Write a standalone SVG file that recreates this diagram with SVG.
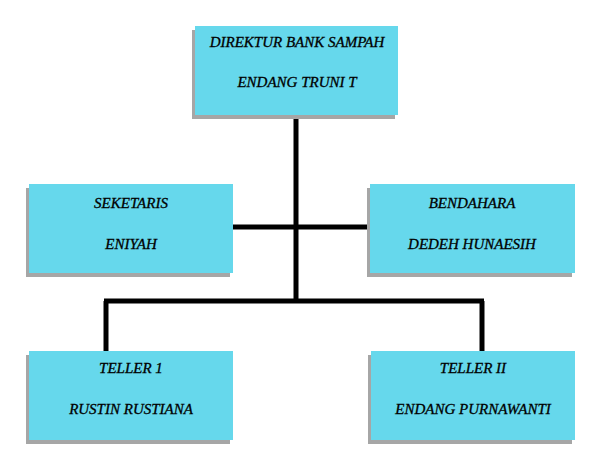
<svg xmlns="http://www.w3.org/2000/svg" width="595" height="474" viewBox="0 0 595 474">
<style>
.box{fill:#66d8ec}
.sh{fill:#a6a6a6}
.t{font-family:"Liberation Serif","Times New Roman",serif;font-style:italic;font-size:15px;fill:#000;stroke:#000;stroke-width:0.3;text-anchor:middle}
.c{stroke:#000;stroke-width:5;fill:none}
</style>
<rect width="595" height="474" fill="#fff"/>
<g id="connectors">
<line class="c" x1="296" y1="115" x2="296" y2="301"/>
<line class="c" x1="233" y1="227" x2="370" y2="227"/>
<line class="c" x1="104" y1="301" x2="484" y2="301"/>
<line class="c" x1="106" y1="301" x2="106" y2="351"/>
<line class="c" x1="482" y1="301" x2="482" y2="351"/>
</g>
<g id="direktur">
<rect class="sh" x="192" y="30" width="203" height="89"/>
<rect class="box" x="195" y="26" width="203" height="89"/>
<text class="t" x="297" y="47">DIREKTUR BANK SAMPAH</text>
<text class="t" x="297" y="87">ENDANG TRUNI T</text>
</g>
<g id="seketaris">
<rect class="sh" x="26" y="188" width="204" height="89"/>
<rect class="box" x="29" y="184" width="204" height="89"/>
<text class="t" x="131" y="208">SEKETARIS</text>
<text class="t" x="131" y="249">ENIYAH</text>
</g>
<g id="bendahara">
<rect class="sh" x="367" y="188" width="205" height="89"/>
<rect class="box" x="370" y="184" width="205" height="89"/>
<text class="t" x="472" y="208">BENDAHARA</text>
<text class="t" x="472" y="249">DEDEH HUNAESIH</text>
</g>
<g id="teller1">
<rect class="sh" x="26" y="355" width="204" height="89"/>
<rect class="box" x="29" y="351" width="204" height="89"/>
<text class="t" x="131" y="373">TELLER 1</text>
<text class="t" x="131" y="414">RUSTIN RUSTIANA</text>
</g>
<g id="teller2">
<rect class="sh" x="368" y="355" width="204" height="89"/>
<rect class="box" x="371" y="351" width="204" height="89"/>
<text class="t" x="473" y="373">TELLER II</text>
<text class="t" x="473" y="414">ENDANG PURNAWANTI</text>
</g>
</svg>
